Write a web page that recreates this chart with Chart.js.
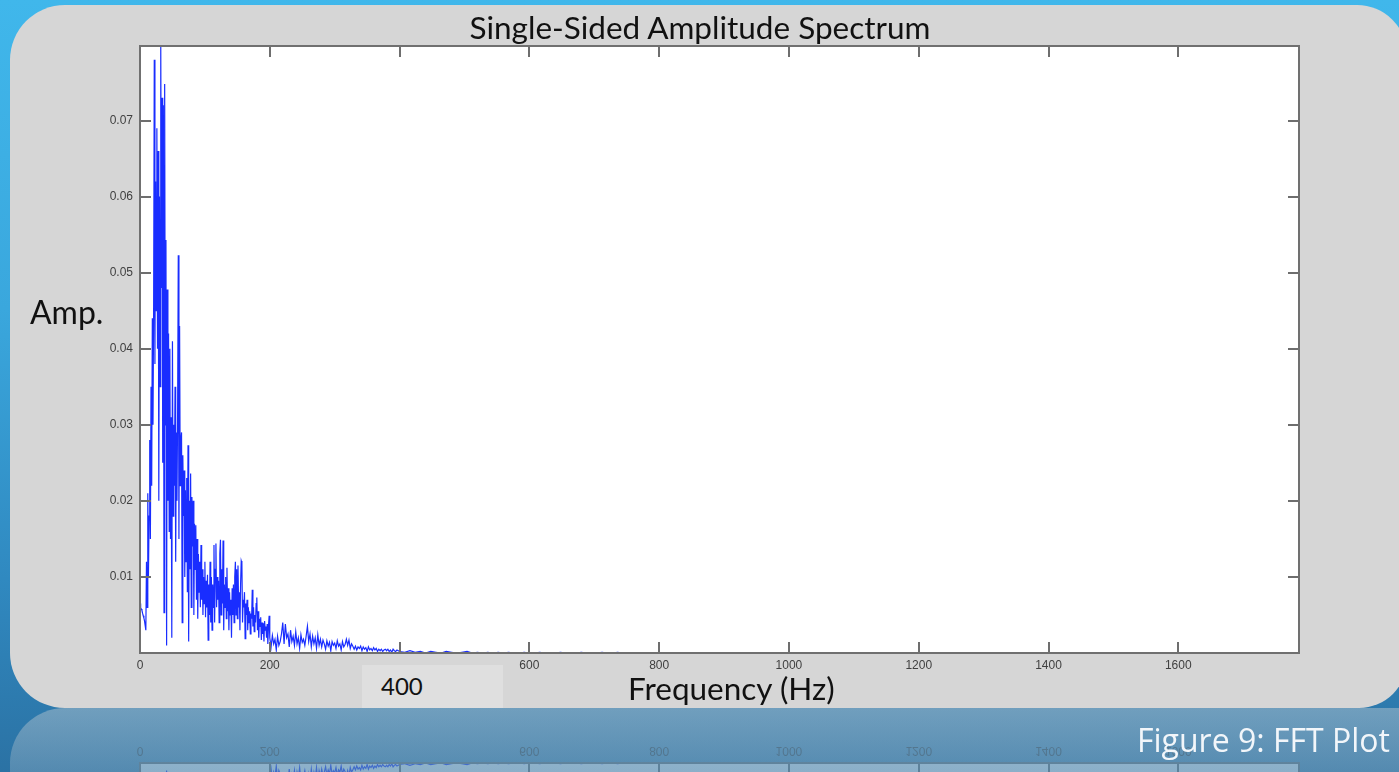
<!DOCTYPE html>
<html>
<head>
<meta charset="utf-8">
<script src="https://cdn.jsdelivr.net/npm/chart.js@4.4.1/dist/chart.umd.min.js"></script>
<style>
    html, body {
        margin: 0;
        padding: 0;
    }
    body {
        width: 1399px;
        height: 772px;
        overflow: hidden;
        position: relative;
        background: linear-gradient(180deg, #40b7eb 0%, #3aa7dd 40%, #3089c0 75%, #2b72a4 100%);
        font-family: Lato, "Open Sans", sans-serif;
    }
    #panel {
        position: absolute;
        left: 10px;
        top: 5px;
        width: 1397px;
        height: 703px;
        background: #d6d6d6;
        border-radius: 55px 50px 48px 55px;
    }
    #chartBox {
        position: absolute;
        left: 0;
        top: 0;
        width: 1397px;
        height: 703px;
    }
    #reflection {
        position: absolute;
        left: 10px;
        top: 708px;
        width: 1397px;
        height: 64px;
        overflow: hidden;
        border-radius: 55px 0 0 0;
        background: linear-gradient(to bottom, rgba(214, 214, 214, 0.40), rgba(214, 214, 214, 0.24));
    }
    #reflection canvas {
        position: absolute;
        left: 0;
        top: 0;
    }
    .label {
        position: absolute;
        color: #111;
        white-space: nowrap;
    }
    #title {
        left: 0;
        width: 1380px;
        text-align: center;
        top: 3px;
        font-size: 31.5px;
        line-height: 38px;
    }
    #ampLabel {
        left: 20px;
        top: 288px;
        font-size: 32px;
        line-height: 38px;
    }
    #freqLabel {
        left: 618px;
        top: 664px;
        font-size: 31.5px;
        line-height: 38px;
    }
    #box400 {
        position: absolute;
        left: 352px;
        top: 660px;
        width: 141px;
        height: 43px;
        background: #dfdfdf;
    }
    #box400 span {
        position: absolute;
        left: 19px;
        top: 6px;
        font-size: 24px;
        line-height: 30px;
        color: #111;
    }
    #caption {
        position: absolute;
        left: 1137px;
        top: 720px;
        font-size: 32px;
        line-height: 40px;
        color: #f2f6fa;
        font-family: "Open Sans", sans-serif;
        white-space: nowrap;
    }
</style>
</head>
<body>
<div id="panel">
    <div id="chartBox"><canvas id="fftChart"></canvas></div>
    <div class="label" id="title">Single-Sided Amplitude Spectrum</div>
    <div class="label" id="ampLabel">Amp.</div>
    <div class="label" id="freqLabel">Frequency (Hz)</div>
    <div id="box400"><span>400</span></div>
</div>
<div id="reflection"><canvas id="mirror" width="1397" height="64"></canvas></div>
<div id="caption">Figure 9: FFT Plot</div>

<script>
// Spectrum, three bands with their own bin spacing
// 0 - 199 Hz, one value per Hz
const band1StartHz = 0;
const band1StepHz = 1;
const band1Amp = [
    0.0065, 0.0060, 0.0058, 0.0056, 0.0052, 0.0049, 0.0046, 0.0042, 0.0036, 0.0030,
    0.0120, 0.0060, 0.0210, 0.0100, 0.0180, 0.0280, 0.0150, 0.0350, 0.0220, 0.0440,
    0.0300, 0.0450, 0.0780, 0.0380, 0.0620, 0.0450, 0.0690, 0.0400, 0.0660, 0.0200,
    0.0600, 0.0350, 0.0797, 0.0480, 0.0730, 0.0250, 0.0720, 0.0053, 0.0748, 0.0300,
    0.0543, 0.0010, 0.0478, 0.0200, 0.0420, 0.0160, 0.0400, 0.0150, 0.0310, 0.0020,
    0.0410, 0.0180, 0.0300, 0.0220, 0.0350, 0.0120, 0.0290, 0.0200, 0.0320, 0.0523,
    0.0150, 0.0430, 0.0220, 0.0280, 0.0290, 0.0040, 0.0260, 0.0180, 0.0240, 0.0100,
    0.0214, 0.0120, 0.0230, 0.0080, 0.0273, 0.0015, 0.0200, 0.0110, 0.0236, 0.0060,
    0.0205, 0.0140, 0.0200, 0.0050, 0.0170, 0.0110, 0.0168, 0.0070, 0.0150, 0.0045,
    0.0130, 0.0080, 0.0120, 0.0060, 0.0142, 0.0070, 0.0110, 0.0050, 0.0100, 0.0065,
    0.0120, 0.0047, 0.0095, 0.0060, 0.0103, 0.0017, 0.0090, 0.0050, 0.0120, 0.0040,
    0.0100, 0.0030, 0.0090, 0.0060, 0.0142, 0.0040, 0.0110, 0.0144, 0.0060, 0.0100,
    0.0070, 0.0095, 0.0040, 0.0130, 0.0149, 0.0050, 0.0110, 0.0065, 0.0148, 0.0030,
    0.0090, 0.0060, 0.0100, 0.0045, 0.0112, 0.0055, 0.0085, 0.0030, 0.0080, 0.0050,
    0.0070, 0.0020, 0.0085, 0.0050, 0.0090, 0.0040, 0.0100, 0.0120, 0.0050, 0.0110,
    0.0045, 0.0115, 0.0060, 0.0080, 0.0030, 0.0090, 0.0121, 0.0118, 0.0040, 0.0070,
    0.0060, 0.0080, 0.0019, 0.0065, 0.0050, 0.0070, 0.0030, 0.0060, 0.0040, 0.0055,
    0.0025, 0.0052, 0.0045, 0.0083, 0.0035, 0.0060, 0.0028, 0.0050, 0.0040, 0.0065,
    0.0073, 0.0030, 0.0055, 0.0020, 0.0045, 0.0035, 0.0047, 0.0017, 0.0040, 0.0025,
    0.0039, 0.0015, 0.0042, 0.0030, 0.0035, 0.0020, 0.0038, 0.0012, 0.0035, 0.0049
];

// 200 - 398 Hz, every 2 Hz
const band2StartHz = 200;
const band2StepHz = 2;
const band2Amp = [
    0.0020, 0.0008, 0.0023, 0.0012, 0.0018, 0.0004, 0.0022, 0.0010, 0.0015, 0.0025,
    0.0040, 0.0012, 0.0038, 0.0020, 0.0025, 0.0008, 0.0030, 0.0015, 0.0022, 0.0010,
    0.0028, 0.0012, 0.0020, 0.0006, 0.0024, 0.0014, 0.0018, 0.0010, 0.0022, 0.0035,
    0.0015, 0.0025, 0.0008, 0.0022, 0.0012, 0.0020, 0.0006, 0.0024, 0.0010, 0.0018,
    0.0008, 0.0017, 0.0012, 0.0005, 0.0016, 0.0009, 0.0014, 0.0003, 0.0015, 0.0010,
    0.0013, 0.0006, 0.0016, 0.0009, 0.0012, 0.0004, 0.0015, 0.0008, 0.0011, 0.0018,
    0.0010, 0.0017, 0.0006, 0.0012, 0.0009, 0.0005, 0.0009, 0.0004, 0.0008, 0.0006,
    0.0009, 0.0003, 0.0008, 0.0005, 0.0007, 0.0002, 0.0008, 0.0004, 0.0006, 0.0003,
    0.0007, 0.0004, 0.0006, 0.0002, 0.0005, 0.0003, 0.0005, 0.0002, 0.0004, 0.0005,
    0.0003, 0.0005, 0.0002, 0.0004, 0.0001, 0.0005, 0.0003, 0.0002, 0.0004, 0.0003
];

// 400 - 896 Hz, every 8 Hz
const band3StartHz = 400;
const band3StepHz = 8;
const band3Amp = [
    0.0002, 0.0001, 0.0003, 0.0001, 0.0002, 0.0000, 0.0002, 0.0001, 0.0000, 0.0002,
    0.0001, 0.0000, 0.0001, 0.0002, 0.0000, 0.0001, 0.0000, 0.0001, 0.0000, 0.0001,
    0.0000, 0.0001, 0.0000, 0.0000, 0.0001, 0.0000, 0.0000, 0.0001, 0.0000, 0.0000,
    0.0000, 0.0001, 0.0000, 0.0000, 0.0000, 0.0001, 0.0000, 0.0000, 0.0000, 0.0001,
    0.0000, 0.0000, 0.0001, 0.0000, 0.0000, 0.0000, 0.0000, 0.0000, 0.0000, 0.0000,
    0.0000, 0.0000, 0.0000, 0.0000, 0.0000, 0.0000, 0.0000, 0.0000, 0.0000, 0.0000,
    0.0000, 0.0000, 0.0000
];

// flat floor up to the Nyquist end of the axis
const tailHz = [1786];
const tailAmp = [0.0000];

// axis settings
const freqMax = 1786;
const freqTicks = [0, 200, 400, 600, 800, 1000, 1200, 1400, 1600];
const ampMax = 0.0798;
const ampTicks = [0, 0.01, 0.02, 0.03, 0.04, 0.05, 0.06, 0.07];

function bandPoints(startHz, stepHz, values) {
    return values.map((v, i) => ({ x: startHz + i * stepHz, y: v }));
}

const spectrum = []
    .concat(bandPoints(band1StartHz, band1StepHz, band1Amp))
    .concat(bandPoints(band2StartHz, band2StepHz, band2Amp))
    .concat(bandPoints(band3StartHz, band3StepHz, band3Amp))
    .concat(tailHz.map((f, i) => ({ x: f, y: tailAmp[i] })));

// matlab style frame: ticks pointing inwards on all four sides
const innerTicks = {
    id: 'innerTicks',
    afterDraw(chart) {
        const { ctx, chartArea: a, scales } = chart;
        const len = 11;
        ctx.save();
        ctx.strokeStyle = '#6e6e6e';
        ctx.lineWidth = 2;
        ctx.beginPath();
        freqTicks.forEach(f => {
            if (f === 0) return;
            const px = Math.round(scales.x.getPixelForValue(f));
            ctx.moveTo(px, a.bottom);
            ctx.lineTo(px, a.bottom - len);
            ctx.moveTo(px, a.top);
            ctx.lineTo(px, a.top + len);
        });
        ampTicks.forEach(v => {
            if (v === 0) return;
            const py = Math.round(scales.y.getPixelForValue(v));
            ctx.moveTo(a.left, py);
            ctx.lineTo(a.left + len, py);
            ctx.moveTo(a.right, py);
            ctx.lineTo(a.right - len, py);
        });
        ctx.stroke();
        ctx.strokeStyle = '#707070';
        ctx.strokeRect(a.left, a.top, a.right - a.left, a.bottom - a.top);
        ctx.restore();
    }
};

const whiteArea = {
    id: 'whiteArea',
    beforeDraw(chart) {
        const { ctx, chartArea: a } = chart;
        ctx.save();
        ctx.fillStyle = '#ffffff';
        ctx.fillRect(a.left, a.top, a.right - a.left, a.bottom - a.top);
        ctx.restore();
    }
};

// faded mirror image under the slide panel
const mirrorCopy = {
    id: 'mirrorCopy',
    afterRender(chart) {
        const m = document.getElementById('mirror');
        const mctx = m.getContext('2d');
        const h = m.height;
        const src = chart.canvas;
        mctx.clearRect(0, 0, m.width, h);
        mctx.save();
        mctx.globalAlpha = 0.32;
        mctx.setTransform(1, 0, 0, -1, 0, h);
        mctx.drawImage(src, 0, src.height - h, m.width, h, 0, 0, m.width, h);
        mctx.restore();
    }
};

const tickFont = { family: 'Arial, "Liberation Sans", sans-serif', size: 12 };

new Chart(document.getElementById('fftChart'), {
    type: 'line',
    data: {
        datasets: [{
            label: 'Amplitude',
            data: spectrum,
            borderColor: 'rgb(25, 45, 255)',
            borderWidth: 1.2,
            pointRadius: 0,
            tension: 0,
            fill: false
        }]
    },
    options: {
        responsive: true,
        maintainAspectRatio: false,
        animation: false,
        clip: 0,
        layout: {
            padding: { left: 0, top: 41, right: 108, bottom: 25 }
        },
        plugins: {
            legend: { display: false },
            tooltip: { enabled: false },
            title: { display: false }
        },
        scales: {
            x: {
                type: 'linear',
                min: 0,
                max: freqMax,
                afterFit: s => { s.height = 30; },
                afterBuildTicks: s => { s.ticks = freqTicks.map(v => ({ value: v })); },
                grid: { display: false, drawTicks: false },
                border: { display: false },
                ticks: {
                    maxRotation: 0,
                    autoSkip: false,
                    padding: 5,
                    color: '#404040',
                    font: tickFont,
                    callback: v => (v === 400 ? '' : String(v))
                }
            },
            y: {
                type: 'linear',
                min: 0,
                max: ampMax,
                afterFit: s => { s.width = 130; },
                afterBuildTicks: s => { s.ticks = ampTicks.map(v => ({ value: v })); },
                grid: { display: false, drawTicks: false },
                border: { display: false },
                ticks: {
                    padding: 7,
                    color: '#404040',
                    font: tickFont,
                    callback: v => (v === 0 ? '' : v.toFixed(2))
                }
            }
        }
    },
    plugins: [whiteArea, innerTicks, mirrorCopy]
});
</script>
</body>
</html>
